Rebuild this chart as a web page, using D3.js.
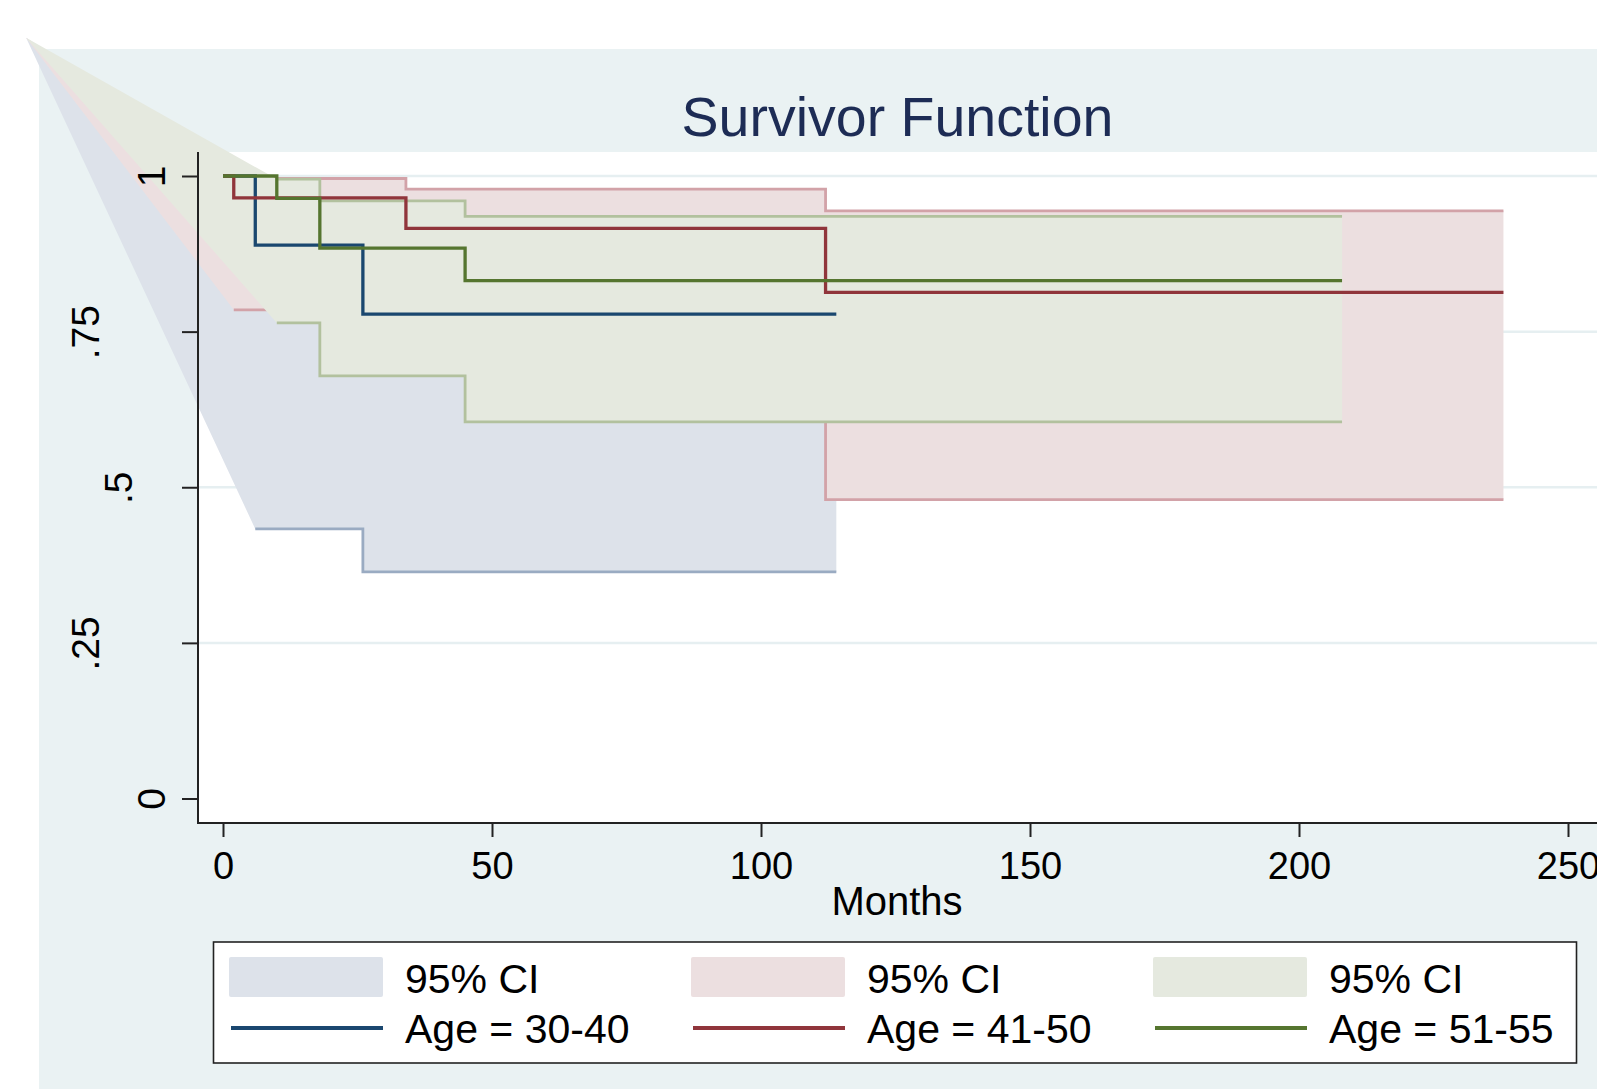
<!DOCTYPE html>
<html>
<head>
<meta charset="utf-8">
<script src="https://cdn.jsdelivr.net/npm/d3@7"></script>
<style>
  body { margin: 0; background: #fff; }
  text { font-family: "Liberation Sans", Arial, Helvetica, sans-serif; }
</style>
</head>
<body>
<script>
// groups shown in the legend
const groupNames = ["Age = 30-40", "Age = 41-50", "Age = 51-55"];

// Kaplan-Meier survivor estimates (months, S(t))
const survTimes = [
  [0, 6, 26, 114],
  [0, 2, 34, 112, 238],
  [0, 10, 18, 45, 208],
];
const survValues = [
  [1, 0.889, 0.778, 0.778],
  [1, 0.965, 0.916, 0.813, 0.813],
  [1, 0.964, 0.884, 0.832, 0.832],
];

// 95% CI bounds, from first failure on
const ciTimes = [
  [6, 26, 114],
  [2, 34, 112, 238],
  [10, 18, 45, 208],
];
const ciLower = [
  [0.433, 0.364, 0.364],
  [0.785, 0.7, 0.48, 0.48],
  [0.764, 0.679, 0.605, 0.605],
];
const ciUpper = [
  [0.98, 0.94, 0.94],
  [0.996, 0.979, 0.944, 0.944],
  [0.995, 0.96, 0.935, 0.935],
];
// stray first vertex the CI areas start from (upper left, outside the plot)
const ciOrigin = [-36.6, 1.222];

const xTicks = [0, 50, 100, 150, 200, 250];
const yTicks = [0, 0.25, 0.5, 0.75, 1];
const yTickLabels = ["0", ".25", ".5", ".75", "1"];
const yGrid = [0.25, 0.5, 0.75, 1];

const lineColors = ["#1a476f", "#90353b", "#55752f"];
const ciFills = ["#dde2ea", "#ecdfe0", "#e5e9df"];
const ciStrokes = ["#9aabc2", "#d2a2a8", "#b2c19e"];

const W = 1597, H = 1089;
const plot = { left: 198, top: 152, right: 1597, bottom: 823 };

const svg = d3.select("body").append("svg")
  .attr("width", W)
  .attr("height", H);

// graph region + plot region
svg.append("rect").attr("x", 39).attr("y", 49)
  .attr("width", W - 39).attr("height", H - 49)
  .attr("fill", "#eaf2f3");
svg.append("rect").attr("x", plot.left).attr("y", plot.top)
  .attr("width", plot.right - plot.left).attr("height", plot.bottom - plot.top)
  .attr("fill", "#fff");

const x = d3.scaleLinear().domain([0, 250]).range([223, 1568]);
const y = d3.scaleLinear().domain([0, 1]).range([798.5, 176]);

// gridlines
svg.append("g").selectAll("line")
  .data(yGrid)
  .join("line")
  .attr("x1", plot.left).attr("x2", plot.right)
  .attr("y1", (d) => y(d)).attr("y2", (d) => y(d))
  .attr("stroke", "#e6eff1")
  .attr("stroke-width", 2.5);

// title
svg.append("text")
  .attr("x", 897.5).attr("y", 135.5)
  .attr("text-anchor", "middle")
  .attr("fill", "#1d2c55")
  .style("font-size", "55.5px")
  .text("Survivor Function");

const pathLine = d3.line().x((d) => x(d[0])).y((d) => y(d[1]));
const stepLine = d3.line().x((d) => x(d[0])).y((d) => y(d[1])).curve(d3.curveStepAfter);

// CI areas
groupNames.forEach((g, k) => {
  const t = ciTimes[k], lo = ciLower[k], up = ciUpper[k];
  const pts = [ciOrigin];
  for (let i = 0; i < t.length; i++) {
    pts.push([t[i], lo[i]]);
    if (i < t.length - 1) pts.push([t[i + 1], lo[i]]);
  }
  for (let i = t.length - 1; i >= 0; i--) {
    pts.push([t[i], up[i]]);
    if (i > 0) pts.push([t[i], up[i - 1]]);
  }
  const grp = svg.append("g");
  grp.append("path")
    .attr("d", pathLine(pts) + "Z")
    .attr("fill", ciFills[k]);
  [lo, up].forEach((b) => {
    grp.append("path")
      .attr("d", stepLine(t.map((v, i) => [v, b[i]])))
      .attr("fill", "none")
      .attr("stroke", ciStrokes[k])
      .attr("stroke-width", 2.8);
  });
});

// survivor lines
groupNames.forEach((g, k) => {
  svg.append("path")
    .attr("d", stepLine(survTimes[k].map((v, i) => [v, survValues[k][i]])))
    .attr("fill", "none")
    .attr("stroke", lineColors[k])
    .attr("stroke-width", 3.3);
});

// axes
const yAxis = svg.append("g")
  .attr("transform", `translate(${plot.left},0)`)
  .call(d3.axisLeft(y).tickValues(yTicks).tickSize(16)
    .tickFormat((d, i) => yTickLabels[i]));
yAxis.select(".domain").remove();
yAxis.selectAll(".tick line").attr("stroke", "#222").attr("stroke-width", 2);
yAxis.selectAll(".tick text")
  .attr("x", null).attr("dy", null)
  .attr("text-anchor", "middle")
  .attr("fill", "#000")
  .style("font-size", "39px")
  .attr("transform", (d, i) => `translate(${-33 * yTickLabels[i].length},0) rotate(-90)`);

const xAxis = svg.append("g")
  .attr("transform", `translate(0,${plot.bottom})`)
  .call(d3.axisBottom(x).tickValues(xTicks).tickSize(14));
xAxis.select(".domain").remove();
xAxis.selectAll(".tick line").attr("stroke", "#222").attr("stroke-width", 2);
xAxis.selectAll(".tick text")
  .attr("y", 56).attr("dy", null)
  .attr("fill", "#000")
  .style("font-size", "38px");

// axis spines
svg.append("line")
  .attr("x1", plot.left).attr("x2", plot.left)
  .attr("y1", plot.top).attr("y2", plot.bottom + 1)
  .attr("stroke", "#222").attr("stroke-width", 2);
svg.append("line")
  .attr("x1", plot.left).attr("x2", plot.right)
  .attr("y1", plot.bottom).attr("y2", plot.bottom)
  .attr("stroke", "#222").attr("stroke-width", 2);

svg.append("text")
  .attr("x", 897).attr("y", 915)
  .attr("text-anchor", "middle")
  .style("font-size", "40px")
  .text("Months");

// legend
const legend = svg.append("g");
legend.append("rect")
  .attr("x", 213.5).attr("y", 942)
  .attr("width", 1363).attr("height", 121)
  .attr("fill", "#fff")
  .attr("stroke", "#222")
  .attr("stroke-width", 1.6);

const colX = [229, 691, 1153];
groupNames.forEach((g, k) => {
  const item = legend.append("g").attr("transform", `translate(${colX[k]},0)`);
  item.append("rect")
    .attr("x", 0).attr("y", 957)
    .attr("width", 154).attr("height", 40)
    .attr("rx", 2)
    .attr("fill", ciFills[k]);
  item.append("line")
    .attr("x1", 2).attr("x2", 154)
    .attr("y1", 1028).attr("y2", 1028)
    .attr("stroke", lineColors[k])
    .attr("stroke-width", 4);
  item.append("text")
    .attr("x", 176).attr("y", 993)
    .style("font-size", "41px")
    .text("95% CI");
  item.append("text")
    .attr("x", 176).attr("y", 1043)
    .style("font-size", "41px")
    .text(g);
});
</script>
</body>
</html>
